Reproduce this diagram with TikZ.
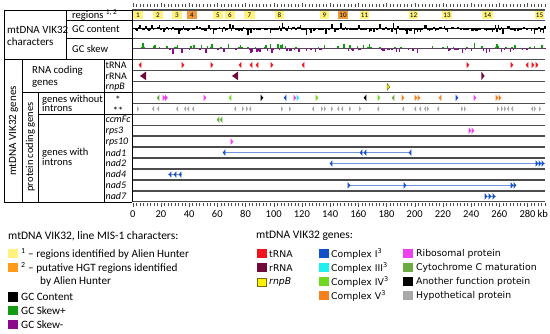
\documentclass[tikz,border=0pt]{standalone}
\usepackage{fontspec}
\setmainfont{Carlito}
\newfontfamily\legfont{DejaVu Sans}
\usetikzlibrary{positioning}

\definecolor{regyellow}{HTML}{FFF27F}
\definecolor{regorange}{HTML}{EE9A3A}
\definecolor{hgtorange}{HTML}{FF9A1A}
\definecolor{gcgreen}{HTML}{129A12}
\definecolor{gcpurple}{HTML}{8B0A8B}
\definecolor{trna}{HTML}{F0141E}
\definecolor{rrna}{HTML}{6E0B3C}
\definecolor{rnpb}{HTML}{FFF200}
\definecolor{rnpbdark}{HTML}{7A6A10}
\definecolor{cI}{HTML}{1450C8}
\definecolor{cIII}{HTML}{20F0F0}
\definecolor{cIV}{HTML}{70D820}
\definecolor{cV}{HTML}{F5801E}
\definecolor{ribo}{HTML}{F040F0}
\definecolor{cytc}{HTML}{6AAA40}
\definecolor{hypo}{HTML}{A8A8A8}

\begin{document}
\begin{tikzpicture}[x=1pt, y=-1pt,
    tbl/.style={line width=0.6pt},
    track/.style={line width=1.3pt, black!70},
    tick/.style={line width=0.4pt, black!70},
    txt/.style={inner sep=0pt, anchor=west, align=left, font=\fontsize{10.5}{12}\selectfont},
    gname/.style={inner sep=0pt, anchor=west, font=\fontsize{10}{11}\selectfont\itshape},
    regnum/.style={inner sep=0pt, font=\fontsize{7}{7}\selectfont},
    ticklab/.style={inner sep=0pt, font=\fontsize{10.5}{11}\selectfont},
    legtitle/.style={inner sep=0pt, anchor=west, font=\fontsize{11.5}{13}\selectfont},
    legtxt/.style={inner sep=0pt, anchor=west, font=\fontsize{11.2}{12}\selectfont},
    keytxt/.style={inner sep=0pt, anchor=west, font=\legfont\fontsize{9.3}{10}\selectfont},
    intron/.style={line width=0.9pt, cI!60}
]
\useasboundingbox (0,0) rectangle (550,334);

% rulers
\foreach \k in {0,...,117}{
  \draw[tick] ({132.7+3.525*\k},4.5) -- ++(0,2.5);
  \draw[tick] ({132.7+3.525*\k},203.5) -- ++(0,2.5);
}
\foreach \k in {0,8,...,112}{
  \draw[tick] ({132.7+3.525*\k},3) -- ++(0,4);
  \draw[tick] ({132.7+3.525*\k},203.5) -- ++(0,4);
}
\foreach \v in {0,20,...,280}
  \node[ticklab] (t\v) at ({132.7+1.41*\v},214) {\v};
\node[ticklab, anchor=west] (tkb) at (537.5,214) {kb};

% regions
\foreach \a/\b/\n in {133/143/1,153/163/2,172/182/3,213/223/5,225/235/6,244/255/7,275/284/8,320/329/9,360/369/11,409/418/12,442/452/13,482/493/14,535/544/15}{
  \fill[regyellow] (\a,11.5) rectangle (\b,19.5);
  \node[regnum] (reg\n) at ({(\a+\b)/2},15.6) {\n};
}
\foreach \a/\b/\n in {187/197/4,338/348/10}{
  \fill[regorange] (\a,11.5) rectangle (\b,19.5);
  \node[regnum] (reg\n) at ({(\a+\b)/2},15.6) {\n};
}

% GC content and GC skew
\pgfmathsetseed{11}
\foreach \x in {133,134.5,...,544}{
  \pgfmathsetmacro\r{rand}
  \pgfmathsetmacro\h{1.6*rand+5*(\r)*(\r)*(\r)}
  \fill[black] (\x,29) rectangle ({\x+1.5},{29-(\h)});
  \pgfmathsetmacro\s{rand}
  \pgfmathsetmacro\g{1*rand+5*(\s)*(\s)*(\s)}
  \ifdim\g pt>0pt
    \fill[gcgreen] (\x,48.5) rectangle ({\x+1.5},{48.5-(\g)});
  \else
    \fill[gcpurple] (\x,48.5) rectangle ({\x+1.5},{48.5-(\g)});
  \fi
}
\draw[line width=1pt] (133,29) -- (545,29);
\draw[line width=0.7pt, gcpurple!60!gcgreen] (133,48.5) -- (545,48.5);

% track lines
\foreach \y in {10,20.5,38.5,59.5}
  \draw[track] (132,\y) -- (545,\y);
\foreach \k in {1,...,13}
  \draw[track] (132,{59.5+10.95*\k}) -- (545,{59.5+10.95*\k});

% table
\draw[tbl] (4,10) -- (132,10);
\draw[tbl] (66,20.5) -- (132,20.5);
\draw[tbl] (66,38.5) -- (132,38.5);
\draw[tbl] (4,59.5) -- (132,59.5);
\draw[tbl] (22.7,92.35) -- (132,92.35);
\draw[tbl] (38.3,114.25) -- (132,114.25);
\draw[tbl] (4,201.85) -- (132,201.85);
\draw[tbl] (4,10) -- (4,201.85);
\draw[tbl] (66,10) -- (66,59.5);
\draw[tbl] (22.7,59.5) -- (22.7,201.85);
\draw[tbl] (38.3,92.35) -- (38.3,201.85);
\draw[tbl] (104,59.5) -- (104,201.85);
\draw[line width=1pt] (132,10) -- (132,201.85);

\node[txt, font=\fontsize{11}{12}\selectfont] (chars) at (7,35.5) {mtDNA VIK32\\characters};
\node[txt] (regions) at (72,15.5) {regions \textsuperscript{1, 2}};
\node[txt] (gccont) at (72,29.5) {GC content};
\node[txt] (gcskew) at (72,48.5) {GC skew};
\node[txt, rotate=90, anchor=center, font=\fontsize{11}{12}\selectfont] (vikgenes) at (13.5,131) {mtDNA VIK32 genes};
\node[txt, rotate=90, anchor=center] (protcod) at (30.5,147) {protein coding genes};
\node[txt, font=\fontsize{10.8}{11.5}\selectfont] (rnacod) at (32,76.5) {RNA coding\\genes};
\node[txt, font=\fontsize{10.5}{9.5}\selectfont] (noint) at (42,103.5) {genes without\\introns};
\node[txt, font=\fontsize{10.5}{9.5}\selectfont] (withint) at (42,157) {genes with\\introns};

\node[txt, font=\fontsize{10}{11}\selectfont] (ltRNA) at (105.5,65) {tRNA};
\node[txt, font=\fontsize{10}{11}\selectfont] (lrRNA) at (105.5,75.9) {rRNA};
\foreach \n/\k in {rnpB/2,ccmFc/5,rps3/6,rps10/7,nad1/8,nad2/9,nad4/10,nad5/11,nad7/12}
  \node[gname] (l\n) at (105.5,{65+10.95*\k}) {\n};
\node[txt, anchor=center] (lstar) at (118,99.5) {*};
\node[txt, anchor=center] (lstars) at (118,110.5) {**};

% tRNA
\foreach \x/\d in {140/-1,183/1,212/1,240/-1,251/-1,257/-1,272/1,303/-1,468/1,512/1,527/-1,533/1,537/1}
  \fill[trna] ({\x-1.4*(\d)},61.8) -- ({\x+1.4*(\d)},65) -- ({\x-1.4*(\d)},68.2) -- cycle;
% rRNA
\foreach \x/\d/\w in {143/-1/3,235/-1/3,483/1/1.6}
  \fill[rrna] ({\x-\w*(\d)},71.6) -- ({\x+\w*(\d)},75.9) -- ({\x-\w*(\d)},80.2) -- cycle;
% rnpB
\filldraw[fill=rnpb, draw=rnpbdark, line width=0.5pt] (387,83.5) -- (390,86.9) -- (387,90.3) -- cycle;
% genes without introns
\foreach \x/\d/\c in {158/-1/cytc,164/1/ribo,166.5/1/ribo,205/1/ribo,230/-1/cIV,262/1/black,285/-1/cI,295/1/ribo,298/1/cIII,317/1/cIV,365/-1/black,379/1/cIV,393/-1/cytc,403/1/cV,416/1/cV,419/1/cV,440/-1/cV,457/1/cI,475/1/ribo,497/1/cV,500/1/cV}
  \fill[\c] ({\x-1.3*(\d)},94.6) -- ({\x+1.3*(\d)},97.8) -- ({\x-1.3*(\d)},101) -- cycle;
\foreach \x/\d in {138/1,153/-1,158/-1,177/-1,185/-1,188/-1,193/-1,235/-1,243/1,247/1,250/-1,282/1,290/1,313/-1,322/1,325/1,332/1,338/-1,342/-1,350/1,360/1,378/-1,403/-1,415/-1,420/-1,425/-1,428/1,438/-1,462/1,465/1,498/1,502/1,505/1,508/-1,512/-1,532/-1,535/1,540/1}
  \fill[hypo] ({\x-1*(\d)},106) -- ({\x+1*(\d)},108.8) -- ({\x-1*(\d)},111.6) -- cycle;
% genes with introns
\foreach \x/\d in {218/-1,221/-1}
  \fill[cytc] ({\x-1.3*(\d)},116.5) -- ({\x+1.3*(\d)},119.7) -- ({\x-1.3*(\d)},122.9) -- cycle;
\foreach \x/\y in {470/130.7,473/130.7,232/141.6}
  \fill[ribo] ({\x-1.3},{\y-3.2}) -- ({\x+1.3},\y) -- ({\x-1.3},{\y+3.2}) -- cycle;
\draw[intron] (224,152.6) -- (410,152.6);
\draw[intron] (331,163.5) -- (545,163.5);
\draw[intron] (168,174.5) -- (182,174.5);
\draw[intron] (349,185.4) -- (515,185.4);
\draw[intron] (485,196.4) -- (496,196.4);
\foreach \x/\y/\d in {224/152.6/-1,361/152.6/-1,365/152.6/-1,410/152.6/-1,331/163.5/-1,537/163.5/1,540/163.5/1,543/163.5/1,170/174.5/-1,175/174.5/-1,180/174.5/-1,349/185.4/1,405/185.4/1,512/185.4/1,515/185.4/1,486/196.4/1,490/196.4/1,494/196.4/1}
  \fill[cI] ({\x-1.3*(\d)},{\y-3.2}) -- ({\x+1.3*(\d)},\y) -- ({\x-1.3*(\d)},{\y+3.2}) -- cycle;

% legend: characters
\node[legtitle] (chartitle) at (8,236) {mtDNA VIK32, line MIS-1 characters:};
\fill[regyellow] (8,249) rectangle (18,258);
\node[legtxt] (keyreg) at (21,253.5) {\textsuperscript{1} – regions identified by Alien Hunter};
\fill[hgtorange] (8,263) rectangle (18,272);
\node[legtxt] (keyhgt) at (21,267.5) {\textsuperscript{2} – putative HGT regions identified};
\node[legtxt] (keyhgtb) at (40,282) {by Alien Hunter};
\fill[black] (8,292) rectangle (18,302);
\node[legtxt] (keygc) at (21,297) {GC Content};
\fill[gcgreen] (8,306) rectangle (18,315);
\node[legtxt] (keyskp) at (21,311) {GC Skew+};
\fill[gcpurple] (8,320) rectangle (18,329);
\node[legtxt] (keyskm) at (21,325) {GC Skew-};

% legend: genes
\node[legtitle] (genetitle) at (256,236) {mtDNA VIK32 genes:};
\fill[trna] (257,249.5) rectangle ++(10,9);
\node[keytxt] (ktrna) at (269,254) {tRNA};
\fill[rrna] (257,263.5) rectangle ++(10,9);
\node[keytxt] (krrna) at (269,268) {rRNA};
\filldraw[fill=rnpb, draw=rnpbdark, line width=0.9pt] (257.5,278) rectangle ++(9,8.5);
\node[keytxt, font=\legfont\fontsize{9.3}{10}\selectfont\itshape] (krnpb) at (269,282) {rnpB};
\foreach \c/\t/\k in {cI/I/0,cIII/III/1,cIV/IV/2,cV/V/3}{
  \fill[\c] (319,{249.5+14*\k}) rectangle ++(10,9);
  \node[keytxt] (kc\k) at (331,{254+14*\k}) {Complex \t\textsuperscript{3}};
}
\foreach \c/\t/\k in {ribo/Ribosomal protein/0,cytc/Cytochrome C maturation/1,black/Another function protein/2,hypo/Hypothetical protein/3}{
  \fill[\c] (403,{249.5+14*\k}) rectangle ++(10,9);
  \node[keytxt] (kf\k) at (416,{254+14*\k}) {\t};
}
\end{tikzpicture}
\end{document}
